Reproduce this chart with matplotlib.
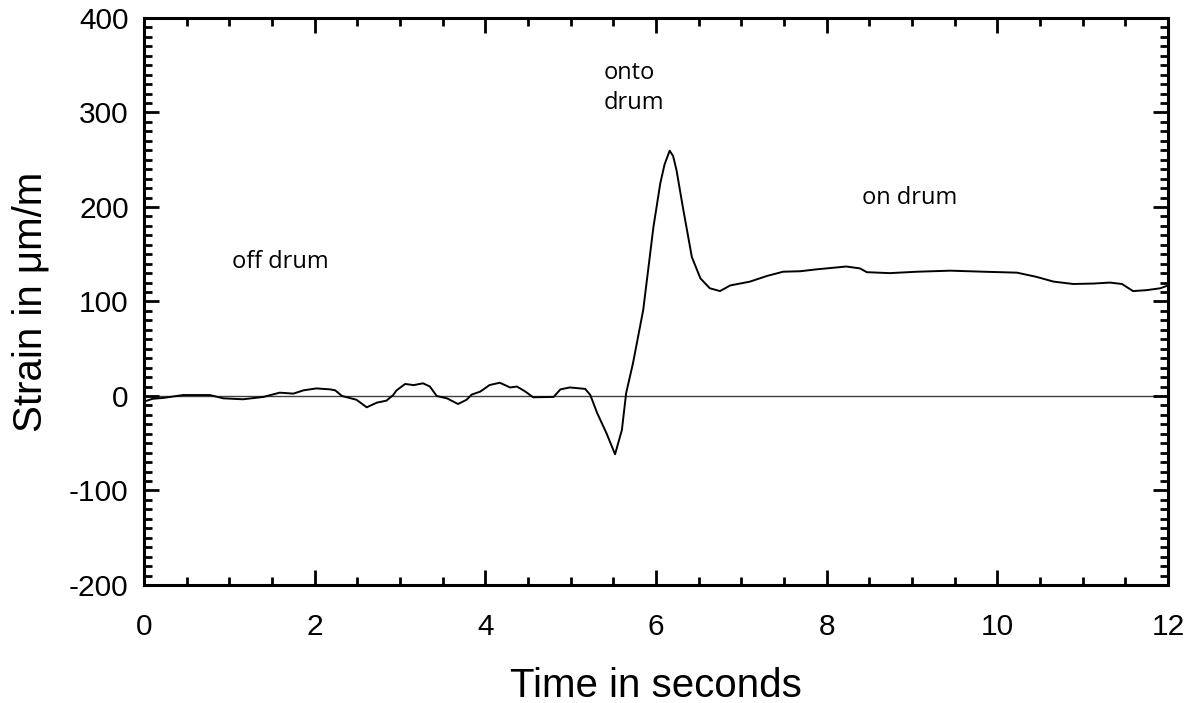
"""Strain gauge trace: belt going off drum, onto drum, on drum."""

import matplotlib

matplotlib.use("Agg")
import matplotlib.pyplot as plt  # noqa: E402
from matplotlib.ticker import MultipleLocator  # noqa: E402

plt.rcParams["font.family"] = ["Liberation Sans", "DejaVu Sans"]
plt.rcParams["axes.unicode_minus"] = False

# Values
time_s = [
    0.00, 0.10, 0.23, 0.46, 0.77, 0.93, 1.16, 1.40, 1.59, 1.75, 1.87, 2.02,
    2.18, 2.24, 2.32, 2.49, 2.61, 2.73, 2.84, 2.92, 2.96, 3.06, 3.16, 3.27,
    3.35, 3.43, 3.55, 3.68, 3.78, 3.84, 3.94, 4.05, 4.17, 4.29, 4.37, 4.47,
    4.56, 4.80, 4.88, 4.99, 5.17, 5.23, 5.31, 5.42, 5.52, 5.60, 5.65, 5.73,
    5.85, 5.97, 6.05, 6.10, 6.16, 6.20, 6.24, 6.32, 6.42, 6.52, 6.63, 6.75,
    6.87, 7.10, 7.30, 7.49, 7.69, 7.88, 8.23, 8.39, 8.47, 8.74, 9.06, 9.45,
    9.84, 10.23, 10.46, 10.66, 10.89, 11.13, 11.32, 11.46, 11.59, 11.75,
    11.91, 12.00,
]
strain = [
    -6, -3, -2, 1, 1, -2.5, -3.5, -1, 3.5, 2.5, 6, 8,
    7, 6, 0, -4, -12, -7, -5, 1, 6, 12.7, 11.5, 13.4,
    10, 0, -2.5, -8.5, -4, 1.5, 4.6, 11.6, 14, 9, 10, 4.6,
    -1.4, -1, 7, 9, 7.5, 1, -18, -39.5, -61.7, -36, 3, 34.6,
    91, 179, 225, 245, 259.6, 254, 239, 197, 147, 124.5, 114, 111,
    117, 121, 127, 131.5, 132, 134, 137, 135, 131, 130, 131.5, 132.6,
    131.5, 130.5, 126, 121, 118.5, 119, 120, 118.5, 111, 112,
    114, 117,
]

annotations = [
    ("off drum", 1.03, 142),
    ("onto\ndrum", 5.39, 326),
    ("on drum", 8.41, 209),
]


def main() -> None:
    fig = plt.figure(figsize=(11.97, 7.03), dpi=100)
    ax = fig.add_axes([0.1203, 0.1679, 0.8555, 0.8065])

    ax.axhline(0, color="#404040", lw=1.0, zorder=1)
    ax.plot(time_s, strain, color="black", lw=1.4, zorder=2)

    for text, x, y in annotations:
        ax.text(x, y, text, fontsize=17, family=["Open Sans", "DejaVu Sans"],
                ha="left", va="center", linespacing=1.3)

    ax.set_xlim(0, 12)
    ax.set_ylim(-200, 400)
    ax.xaxis.set_major_locator(MultipleLocator(2))
    ax.xaxis.set_minor_locator(MultipleLocator(0.5))
    ax.yaxis.set_major_locator(MultipleLocator(100))
    ax.yaxis.set_minor_locator(MultipleLocator(10))

    for side in ax.spines.values():
        side.set_linewidth(2.2)
    ax.tick_params(which="both", direction="in", top=True, right=True,
                   width=2.0, labelsize=21.5)
    ax.tick_params(which="major", length=11)
    ax.tick_params(which="minor", length=5.5)
    ax.tick_params(axis="x", which="both", pad=20)
    ax.tick_params(axis="y", which="both", pad=11)

    ax.set_xlabel("Time in seconds", fontsize=29)
    ax.set_ylabel("Strain in μm/m", fontsize=29)
    ax.xaxis.set_label_coords(0.5, -0.145)
    ax.yaxis.set_label_coords(-0.092, 0.5)

    fig.savefig("out.png", dpi=100)
    plt.close(fig)


if __name__ == "__main__":
    main()
